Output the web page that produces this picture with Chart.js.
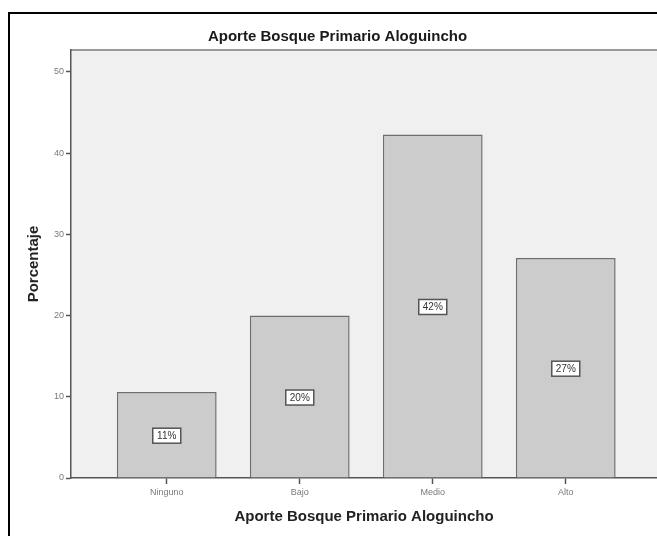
<!DOCTYPE html>
<html>
<head>
<meta charset="utf-8">
<script src="https://cdn.jsdelivr.net/npm/chart.js@4/dist/chart.umd.min.js"></script>
<style>
  html, body { margin: 0; padding: 0; background: #ffffff; }
  canvas { display: block; }
</style>
</head>
<body>
<canvas id="aporte" width="657" height="536"></canvas>
<script>

var categorias = ["Ninguno", "Bajo", "Medio", "Alto"];
var porcentajes = [10.6, 20.0, 42.3, 27.1];
var etiquetas = ["11%", "20%", "42%", "27%"];
var yTicks = [0, 10, 20, 30, 40, 50];

// fondo gris del area y marco negro de la figura
var fondoPlugin = {
  id: "fondo",
  beforeDraw: function(chart) {
    var ctx = chart.ctx;
    var a = chart.chartArea;
    ctx.save();
    ctx.fillStyle = "#f0f0f0";
    ctx.fillRect(a.left, a.top, a.right - a.left, a.bottom - a.top);
    ctx.strokeStyle = "#9a9a9a";
    ctx.lineWidth = 2;
    ctx.beginPath();
    ctx.moveTo(a.left, a.top);
    ctx.lineTo(a.right, a.top);
    ctx.stroke();
    ctx.restore();
  },
  afterDraw: function(chart) {
    var ctx = chart.ctx;
    ctx.save();
    ctx.strokeStyle = "#000000";
    ctx.lineWidth = 2;
    ctx.strokeRect(9, 13, 700, 600);
    ctx.restore();
  }
};

// etiquetas de porcentaje en cajas blancas
var etiquetasPlugin = {
  id: "etiquetas",
  afterDatasetsDraw: function(chart) {
    var ctx = chart.ctx;
    var meta = chart.getDatasetMeta(0);
    ctx.save();
    ctx.font = "10px 'Liberation Sans', Arial, sans-serif";
    ctx.textAlign = "center";
    ctx.textBaseline = "middle";
    meta.data.forEach(function(bar, i) {
      var cx = bar.x;
      var cy = (bar.y + bar.base) / 2 + 1;
      var w = 28, h = 15;
      ctx.fillStyle = "#ffffff";
      ctx.fillRect(cx - w / 2, cy - h / 2, w, h);
      ctx.strokeStyle = "#555555";
      ctx.lineWidth = 1.5;
      ctx.strokeRect(cx - w / 2, cy - h / 2, w, h);
      ctx.fillStyle = "#333333";
      ctx.fillText(etiquetas[i], cx, cy + 0.5);
    });
    ctx.restore();
  }
};

function init() {

  var puntos = [];
  for (var i = 0; i < categorias.length; i++) {
    puntos.push({ x: i, y: porcentajes[i] });
  }

  var ctx = document.getElementById("aporte");
  new Chart(ctx, {
    type: "bar",
    data: {
      datasets: [{
        label: "Porcentaje",
        data: puntos,
        backgroundColor: "#cccccc",
        borderColor: "#6e6e6e",
        borderWidth: 1.5,
        borderSkipped: "bottom",
        barPercentage: 0.75,
        categoryPercentage: 1
      }]
    },
    plugins: [fondoPlugin, etiquetasPlugin],
    options: {
      responsive: false,
      animation: false,
      layout: { padding: { top: 28, left: 18, right: 0, bottom: 0 } },
      plugins: {
        legend: { display: false },
        tooltip: { enabled: false },
        title: {
          display: true,
          text: "Aporte Bosque Primario Aloguincho",
          color: "#1a1a1a",
          font: { family: "'Liberation Sans', Arial, sans-serif", size: 15, weight: "bold" },
          padding: { top: 0, bottom: 4 }
        }
      },
      scales: {
        x: {
          type: "linear",
          offset: false,
          min: -0.72,
          max: 3.686,
          afterFit: function(scale) { scale.height = 58; },
          afterBuildTicks: function(scale) {
            scale.ticks = categorias.map(function(c, i) { return { value: i }; });
          },
          ticks: {
            color: "#7a7a7a",
            font: { family: "'Liberation Sans', Arial, sans-serif", size: 9 },
            padding: 3,
            maxRotation: 0,
            callback: function(v) { return categorias[v]; }
          },
          grid: { offset: false, drawOnChartArea: false, tickLength: 6, color: "#555555", tickWidth: 1.5 },
          border: { color: "#555555", width: 1.5 },
          title: {
            display: true,
            text: "Aporte Bosque Primario Aloguincho",
            color: "#222222",
            font: { family: "'Liberation Sans', Arial, sans-serif", size: 15, weight: "bold" },
            padding: { top: 0, bottom: 10 }
          }
        },
        y: {
          min: 0,
          max: 52.7,
          afterFit: function(scale) { scale.width = 53; },
          afterBuildTicks: function(scale) {
            scale.ticks = yTicks.map(function(v) { return { value: v }; });
          },
          ticks: {
            color: "#7a7a7a",
            font: { family: "'Liberation Sans', Arial, sans-serif", size: 9 },
            padding: 2
          },
          grid: { drawOnChartArea: false, tickLength: 5, color: "#555555", tickWidth: 1.5 },
          border: { color: "#555555", width: 1.5 },
          title: {
            display: true,
            text: "Porcentaje",
            color: "#222222",
            font: { family: "'Liberation Sans', Arial, sans-serif", size: 15, weight: "bold" },
            padding: { top: 6.5, bottom: 0 }
          }
        }
      }
    }
  });
}

init();
</script>
</body>
</html>
